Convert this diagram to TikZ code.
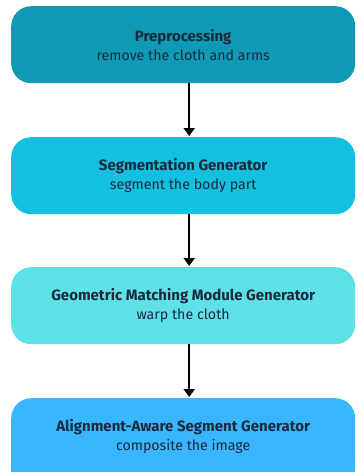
\documentclass[tikz,border=0pt]{standalone}
\usepackage{fontspec}
\setmainfont{Fira Sans}
\usetikzlibrary{arrows.meta}
\definecolor{cA}{HTML}{0E9AB4}
\definecolor{cB}{HTML}{12C0DF}
\definecolor{cC}{HTML}{5DE0E6}
\definecolor{cD}{HTML}{38B6FF}
\definecolor{txt}{HTML}{1B2A3D}
\newcommand{\stagetitle}[1]{{\fontsize{15}{19}\selectfont\bfseries #1}}
\begin{document}
\begin{tikzpicture}[x=1pt,y=-1pt,
  stagebox/.style={draw=none, rounded corners=20pt, minimum width=344pt, minimum height=77pt, anchor=north west, inner sep=0pt, align=center, text=txt, font=\fontsize{14.2}{19}\selectfont},
  flow/.style={line width=2pt, -{Triangle[width=11pt,length=8pt]}, shorten >=1pt}]
\useasboundingbox (0,0) rectangle (357,472);
\begin{scope}
\clip (0,0) rectangle (357,472);
\node[stagebox, fill=cA] (p) at (11,6) {\stagetitle{Preprocessing}\\remove the cloth and arms};
\node[stagebox, fill=cB] (s) at (11,137) {\stagetitle{Segmentation Generator}\\segment the body part};
\node[stagebox, fill=cC] (g) at (11,267) {\stagetitle{Geometric Matching Module Generator}\\warp the cloth};
\fill[cD] (11,440) rectangle (355,472);
\node[stagebox, fill=cD] (a) at (11,398) {\stagetitle{Alignment-Aware Segment Generator}\\composite the image};
\end{scope}
\draw[flow] ([xshift=6pt]p.south) -- ([xshift=6pt]s.north);
\draw[flow] ([xshift=6pt]s.south) -- ([xshift=6pt]g.north);
\draw[flow] ([xshift=6pt]g.south) -- ([xshift=6pt]a.north);
\end{tikzpicture}
\end{document}
